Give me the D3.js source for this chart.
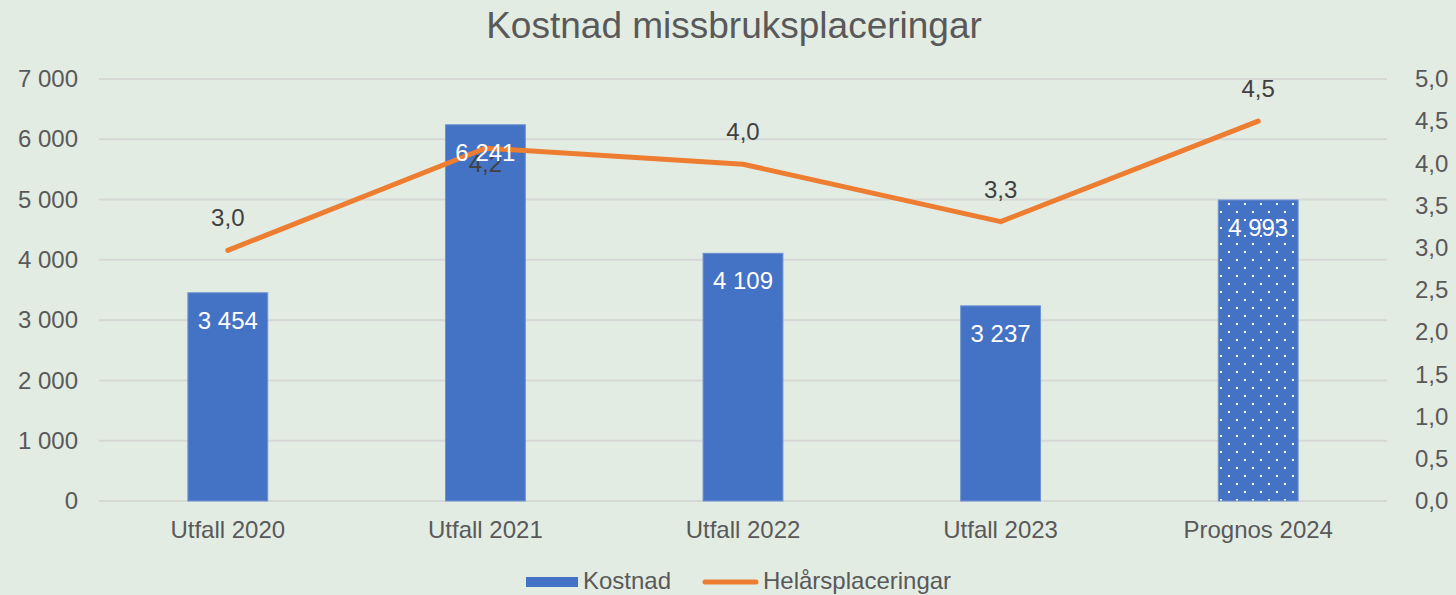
<!DOCTYPE html>
<html>
<head>
<meta charset="utf-8">
<script src="https://cdn.jsdelivr.net/npm/d3@7"></script>
<style>
  body { margin: 0; background: #e3ece3; }
  svg { display: block; font-family: "Liberation Sans", Arial, sans-serif; }
</style>
</head>
<body>
<div id="chart"></div>
<script>
// Data
var categories = ["Utfall 2020", "Utfall 2021", "Utfall 2022", "Utfall 2023", "Prognos 2024"];
var kostnad = [3454, 6241, 4109, 3237, 4993];
var helars = [2.97, 4.18, 3.99, 3.31, 4.5];
var leftTicks = [0, 1000, 2000, 3000, 4000, 5000, 6000, 7000];
var rightTicks = [0, 0.5, 1, 1.5, 2, 2.5, 3, 3.5, 4, 4.5, 5];
var lineLabelSide = ["above", "below", "above", "above", "above"];
var forecast = [false, false, false, false, true];

var w = 1456, h = 595;
var margin = {top: 79, right: 69, bottom: 94, left: 99};
var width = w - margin.left - margin.right;
var height = h - margin.top - margin.bottom;
var fontSize = "24px";

var svg = d3.select("#chart").append("svg")
  .attr("width", w)
  .attr("height", h);

svg.append("rect").attr("width", w).attr("height", h).attr("fill", "#e3ece3");

// Dotted pattern for the forecast bar
var defs = svg.append("defs");
var pat = defs.append("pattern")
  .attr("id", "dots")
  .attr("patternUnits", "userSpaceOnUse")
  .attr("width", 16).attr("height", 16);
pat.append("rect").attr("width", 16).attr("height", 16).attr("fill", "#4472c4");
pat.append("rect").attr("x", 1).attr("y", 4).attr("width", 2).attr("height", 2).attr("fill", "#fff");
pat.append("rect").attr("x", 9).attr("y", 12).attr("width", 2).attr("height", 2).attr("fill", "#fff");

// Title
svg.append("text")
  .attr("x", 734)
  .attr("y", 38)
  .attr("text-anchor", "middle")
  .attr("font-size", "37px")
  .attr("fill", "#595959")
  .text("Kostnad missbruksplaceringar");

var g = svg.append("g")
  .attr("transform", "translate(" + margin.left + "," + margin.top + ")");

// Scales
var xScale = d3.scaleBand().domain(categories).range([0, width]).paddingInner(0.69).paddingOuter(0.345);
var yScale = d3.scaleLinear().domain([0, 7000]).range([height, 0]);
var y2Scale = d3.scaleLinear().domain([0, 5]).range([height, 0]);

// Gridlines
g.selectAll(".grid").data(leftTicks).enter().append("line")
  .attr("x1", 0).attr("x2", width)
  .attr("y1", function(d) { return yScale(d); })
  .attr("y2", function(d) { return yScale(d); })
  .attr("stroke", "#d6d8d6")
  .attr("stroke-width", 2);

var fmtLeft = function(d) { return d3.format(",")(d).replace(/,/g, " "); };
var fmtRight = function(d) { return d3.format(".1f")(d).replace(".", ","); };

function styleText(sel) {
  sel.attr("font-size", fontSize)
    .attr("font-family", "Liberation Sans, Arial, sans-serif")
    .attr("fill", "#595959");
}

// Left axis
var yAxis = d3.axisLeft(yScale).tickValues(leftTicks).tickFormat(fmtLeft).tickSize(0).tickPadding(21);
g.append("g").call(yAxis)
  .call(function(a) { a.select(".domain").remove(); })
  .selectAll("text").call(styleText);

// Right axis
var y2Axis = d3.axisRight(y2Scale).tickValues(rightTicks).tickFormat(fmtRight).tickSize(0).tickPadding(28);
g.append("g").attr("transform", "translate(" + width + ",0)").call(y2Axis)
  .call(function(a) { a.select(".domain").remove(); })
  .selectAll("text").call(styleText);

// X axis
var xAxis = d3.axisBottom(xScale).tickSize(0).tickPadding(20);
g.append("g").attr("transform", "translate(0," + height + ")").call(xAxis)
  .call(function(a) { a.select(".domain").remove(); })
  .selectAll("text").call(styleText);

// Bars
var data = categories.map(function(c, i) { return {cat: c, val: kostnad[i], line: helars[i], side: lineLabelSide[i], fc: forecast[i]}; });

g.selectAll(".bar").data(data).enter().append("rect")
  .attr("x", function(d) { return xScale(d.cat); })
  .attr("y", function(d) { return yScale(d.val); })
  .attr("width", xScale.bandwidth())
  .attr("height", function(d) { return height - yScale(d.val); })
  .attr("fill", function(d) { return d.fc ? "url(#dots)" : "#4472c4"; })
  .attr("stroke", "#6f93d3")
  .attr("stroke-width", 1);

// Line
var line = d3.line()
  .x(function(d) { return xScale(d.cat) + xScale.bandwidth() / 2; })
  .y(function(d) { return y2Scale(d.line); });

g.append("path").datum(data)
  .attr("d", line)
  .attr("fill", "none")
  .attr("stroke", "#ed7d31")
  .attr("stroke-width", 5)
  .attr("stroke-linejoin", "round")
  .attr("stroke-linecap", "round");

// Line labels
g.selectAll(".linelabel").data(data).enter().append("text")
  .attr("x", function(d) { return xScale(d.cat) + xScale.bandwidth() / 2; })
  .attr("y", function(d) { return y2Scale(d.line) + (d.side == "below" ? 24 : -24); })
  .attr("text-anchor", "middle")
  .attr("font-size", fontSize)
  .attr("fill", "#404040")
  .text(function(d) { return fmtRight(d.line); });

// Bar labels (drawn on top of the line, as in the original)
g.selectAll(".barlabel").data(data).enter().append("text")
  .attr("x", function(d) { return xScale(d.cat) + xScale.bandwidth() / 2; })
  .attr("y", function(d) { return yScale(d.val) + 36; })
  .attr("text-anchor", "middle")
  .attr("font-size", fontSize)
  .attr("fill", "#ffffff")
  .text(function(d) { return fmtLeft(d.val); });

// Legend
var legend = svg.append("g");
legend.append("rect").attr("x", 526).attr("y", 577).attr("width", 52).attr("height", 10).attr("fill", "#4472c4");
legend.append("text").attr("x", 583).attr("y", 589).attr("font-size", fontSize).attr("fill", "#595959").text("Kostnad");
legend.append("line").attr("x1", 705).attr("x2", 756).attr("y1", 582).attr("y2", 582)
  .attr("stroke", "#ed7d31").attr("stroke-width", 5).attr("stroke-linecap", "round");
legend.append("text").attr("x", 763).attr("y", 589).attr("font-size", fontSize).attr("fill", "#595959").text("Helårsplaceringar");
</script>
</body>
</html>
